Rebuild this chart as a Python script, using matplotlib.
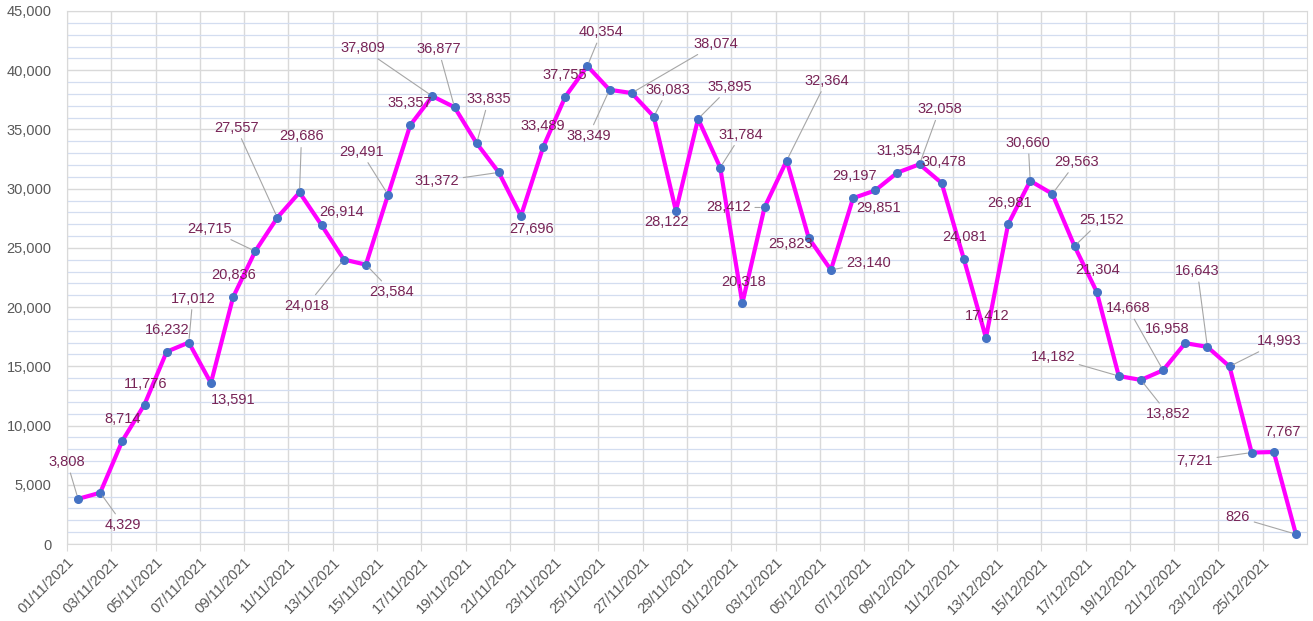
import numpy as np
import pandas as pd
import matplotlib
matplotlib.use('Agg')
import matplotlib.pyplot as plt
from matplotlib.ticker import MultipleLocator, FuncFormatter

plt.rcParams['font.family'] = ['Liberation Sans', 'DejaVu Sans']

# daily values, 01/11/2021 .. 26/12/2021
dates = pd.date_range('2021-11-01', '2021-12-26', freq='D')
cases = [3808, 4329, 8714, 11776, 16232, 17012, 13591, 20836, 24715, 27557,
         29686, 26914, 24018, 23584, 29491, 35357, 37809, 36877, 33835, 31372,
         27696, 33489, 37755, 40354, 38349, 38074, 36083, 28122, 35895, 31784,
         20318, 28412, 32364, 25823, 23140, 29197, 29851, 31354, 32058, 30478,
         24081, 17412, 26981, 30660, 29563, 25152, 21304, 14182, 13852, 14668,
         16958, 16643, 14993, 7721, 7767, 826]

# where each data label sits (pixel offset from its point) and if it has a leader line
label_pos = [(-11, 37, True), (23, -32, True), (0, 22, False), (1, 21, False),
             (1, 22, False), (4, 44, True), (22, -17, False), (1, 22, False),
             (-46, 22, True), (-41, 90, True), (2, 56, True), (20, 13, False),
             (-37, -46, True), (26, -27, True), (-27, 43, True), (0, 22, False),
             (-70, 48, True), (-16, 58, True), (12, 44, True), (-62, -9, True),
             (11, -13, False), (0, 21, False), (0, 22, False), (14, 34, True),
             (-21, -46, True), (84, 49, True), (14, 27, True), (-9, -11, False),
             (32, 32, True), (21, 33, True), (1, 21, False), (-36, 0, True),
             (40, 80, True), (-18, -6, False), (38, 7, True), (1, 22, False),
             (3, -18, False), (1, 22, False), (20, 55, True), (2, 21, False),
             (1, 22, False), (1, 22, False), (1, 21, False), (-2, 38, True),
             (24, 32, True), (27, 26, True), (1, 22, False), (-66, 19, True),
             (27, -34, True), (-35, 62, True), (-18, 14, False), (-10, 76, True),
             (50, 25, True), (-57, -8, True), (9, 20, False), (-58, 17, True)]

label_color = '#782456'
grid_gray = '#D9D9D9'

fig = plt.figure(figsize=(13.13, 6.21), dpi=100)
ax = fig.add_axes([67 / 1313, 77 / 621, 1240 / 1313, 533 / 621])

x = np.arange(len(cases)) + 0.5
ax.plot(x, cases, color='#FF00FF', lw=3, zorder=3)
ax.plot(x, cases, 'o', color='#4472C4', ms=5.5, zorder=4)

for xi, v, (dx, dy, lead) in zip(x, cases, label_pos):
    arrow = dict(arrowstyle='-', color='#A6A6A6', lw=0.8, shrinkA=1, shrinkB=3) if lead else None
    ax.annotate(f'{v:,}', (xi, v), xytext=(dx, dy), textcoords='offset pixels',
                ha='center', va='center', fontsize=10.5, color=label_color,
                arrowprops=arrow, zorder=5)

ax.set_xlim(0, len(cases))
ax.set_ylim(0, 45000)
ax.set_xticks(np.arange(0, len(cases), 2))
ax.set_xticklabels(dates[::2].strftime('%d/%m/%Y'), rotation=45, ha='right',
                   rotation_mode='anchor')
ax.yaxis.set_major_locator(MultipleLocator(5000))
ax.yaxis.set_minor_locator(MultipleLocator(1000))
ax.yaxis.set_major_formatter(FuncFormatter(lambda v, p: f'{int(v):,}'))

ax.grid(True, which='major', color=grid_gray, lw=1, zorder=0)
ax.grid(True, which='minor', axis='y', color='#D3DDF0', lw=0.9, zorder=0)
ax.set_axisbelow(True)

ax.tick_params(axis='x', length=5, color=grid_gray, labelsize=10.5,
               labelcolor='#595959', pad=3)
ax.tick_params(axis='y', which='both', length=0, labelsize=10.5,
               labelcolor='#595959', pad=11)
for s in ax.spines.values():
    s.set_color(grid_gray)

fig.savefig('out.png', dpi=100)
